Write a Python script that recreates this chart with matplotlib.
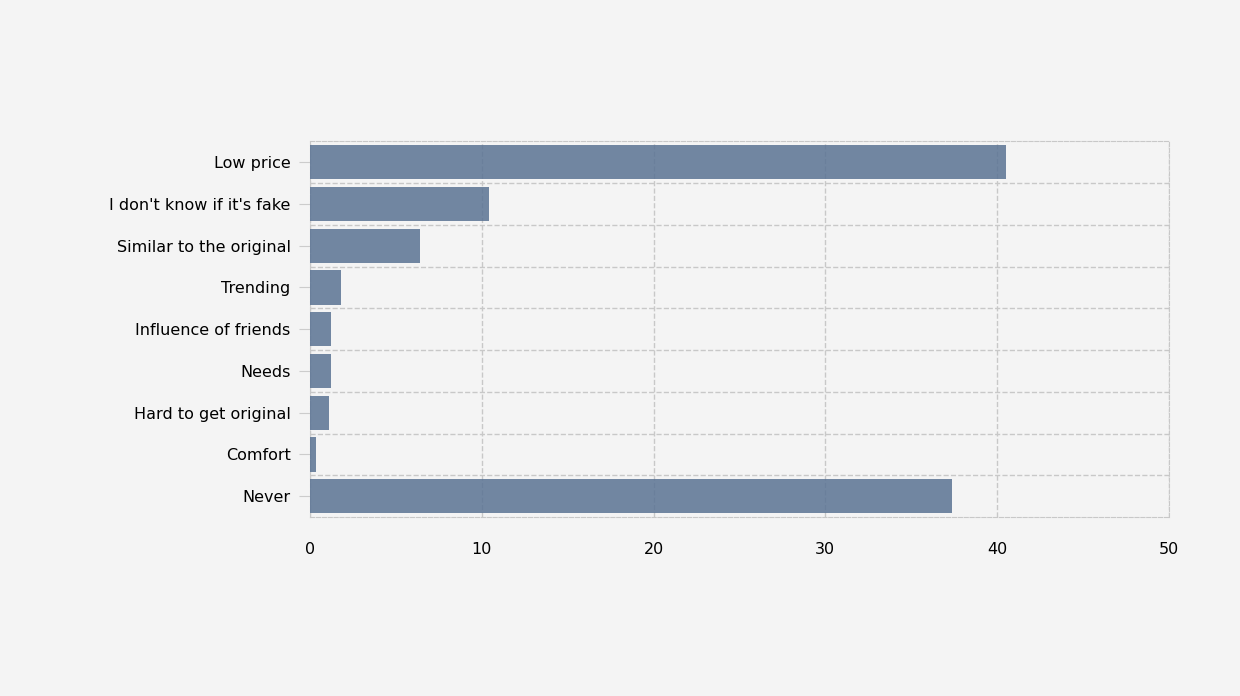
import matplotlib
matplotlib.use("Agg")
import matplotlib.pyplot as plt
import numpy as np

categories = ["Low price", "I don't know if it's fake", "Similar to the original", "Trending",
              "Influence of friends", "Needs", "Hard to get original", "Comfort", "Never"]
values = [40.5, 10.4, 6.4, 1.8, 1.2, 1.2, 1.1, 0.35, 37.4]
xticks = [0, 10, 20, 30, 40, 50]

fig = plt.figure(figsize=(12.4, 6.96), dpi=100, facecolor="#f4f4f4")
ax = fig.add_axes([0.25, 0.257, 0.6927, 0.54])
ax.set_facecolor("#f4f4f4")
y = np.arange(len(categories))
ax.barh(y, values, height=0.82, color="#5a7393", alpha=0.85, zorder=3)
ax.set_ylim(len(categories) - 0.5, -0.5)
ax.set_xlim(0, 50)
ax.set_yticks(y)
ax.set_yticklabels(categories, fontsize=11.5)
ax.set_xticks(xticks)
ax.set_xticklabels([str(t) for t in xticks], fontsize=11.5)
ax.set_yticks(np.arange(len(categories) - 1) + 0.5, minor=True)
ax.tick_params(axis="y", which="major", length=8, color="#cccccc", pad=6)
ax.tick_params(axis="y", which="minor", length=0)
ax.tick_params(axis="x", length=0, pad=18)
ax.grid(True, axis="x", which="major", linestyle="--", color="#c8c8c8", linewidth=1, zorder=0)
ax.grid(True, axis="y", which="minor", linestyle="--", color="#c8c8c8", linewidth=1, zorder=0)
for s in ax.spines.values():
    s.set_linestyle("--")
    s.set_color("#c8c8c8")
fig.savefig("out.png", dpi=100, facecolor=fig.get_facecolor())
